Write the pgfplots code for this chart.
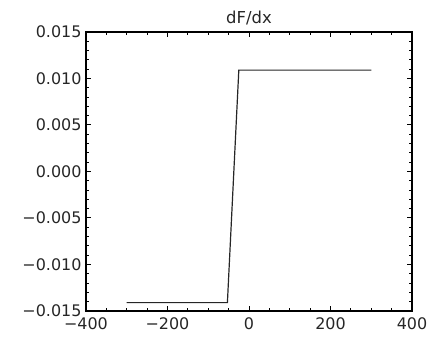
\documentclass[border=0pt]{standalone}
\usepackage{fontspec}
\setmainfont{DejaVu Sans}
\usepackage{pgfplots}
\pgfplotsset{compat=1.18}
\begin{document}
\begin{tikzpicture}[x=1bp,y=1bp]
\begin{axis}[
  at={(0,0)}, anchor=south west,
  scale only axis,
  width=326bp, height=279bp,
  xmin=-400, xmax=400,
  ymin=-0.015, ymax=0.015,
  xtick={-400,-200,0,200,400},
  xticklabels={−400,−200,0,200,400},
  ytick={-0.015,-0.010,-0.005,0,0.005,0.010,0.015},
  yticklabels={−0.015,−0.010,−0.005,0.000,0.005,0.010,0.015},
  scaled y ticks=false,
  minor x tick num=3,
  minor y tick num=4,
  tick align=inside,
  major tick length=5bp,
  minor tick length=2.8bp,
  every tick/.style={black, line width=1bp},
  axis line style={line width=1.4bp, black},
  tick label style={font=\fontsize{16}{18}\selectfont, text=black!85},
  xticklabel style={yshift=-3bp},
  yticklabel style={xshift=-1bp},
  title={dF/dx},
  title style={font=\fontsize{16.5}{18}\selectfont, text=black!85, yshift=-3bp},
]
\addplot[black!85, line width=1.2bp] coordinates {
  (-300,-0.0141) (-53,-0.0141) (-25,0.0109) (300,0.0109)
};
\end{axis}
\path[use as bounding box] (-86bp,-26bp) rectangle (354bp,311bp);
\end{tikzpicture}
\end{document}
